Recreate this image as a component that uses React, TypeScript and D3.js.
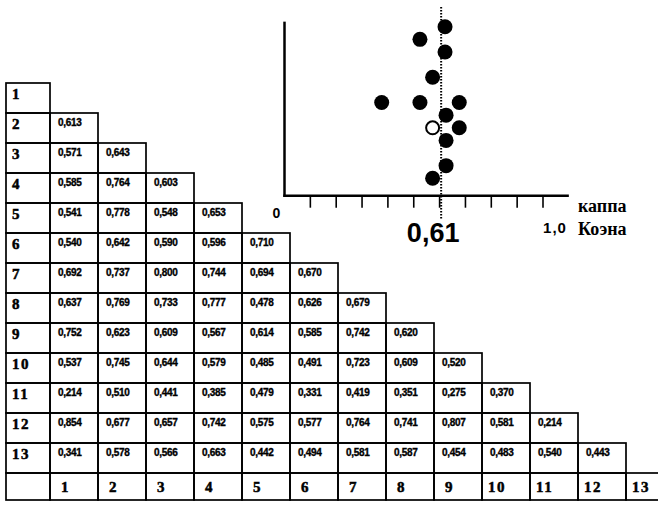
import React from "react";
import * as d3 from "d3";

// pairwise Cohen's kappa between 13 raters (lower triangle, row i vs columns 1..i-1)
const raters = ["1", "2", "3", "4", "5", "6", "7", "8", "9", "10", "11", "12", "13"];

const kappaRows: number[][] = [
  [],
  [0.613],
  [0.571, 0.643],
  [0.585, 0.764, 0.603],
  [0.541, 0.778, 0.548, 0.653],
  [0.540, 0.642, 0.590, 0.596, 0.710],
  [0.692, 0.737, 0.800, 0.744, 0.694, 0.670],
  [0.637, 0.769, 0.733, 0.777, 0.478, 0.626, 0.679],
  [0.752, 0.623, 0.609, 0.567, 0.614, 0.585, 0.742, 0.620],
  [0.537, 0.745, 0.644, 0.579, 0.485, 0.491, 0.723, 0.609, 0.520],
  [0.214, 0.510, 0.441, 0.385, 0.479, 0.331, 0.419, 0.351, 0.275, 0.370],
  [0.854, 0.677, 0.657, 0.742, 0.575, 0.577, 0.764, 0.741, 0.807, 0.581, 0.214],
  [0.341, 0.578, 0.566, 0.663, 0.442, 0.494, 0.581, 0.587, 0.454, 0.483, 0.540, 0.443],
];

// dot plot: mean kappa per rater, vertical slot, hollow marker
const dotKappa = [0.621, 0.524, 0.621, 0.573, 0.376, 0.524, 0.676, 0.625, 0.573, 0.676, 0.625, 0.625, 0.573];
const dotSlot = [0, 1, 2, 4, 6, 6, 6, 7, 8, 8, 9, 11, 12];
const dotHollow = [false, false, false, false, false, false, false, false, true, false, false, false, false];

const axisTicks = [0.1, 0.2, 0.3, 0.4, 0.5, 0.6, 0.7, 0.8, 0.9, 1.0];
const refLine = 0.606;
const refLabel = "0,61";

const W = 658;
const H = 507;

const serif = "'Liberation Serif', 'Times New Roman', serif";
const sans = "'Liberation Sans', Arial, sans-serif";

const fmt = (v: number) => d3.format(".3f")(v).replace(".", ",");

export default function App() {
  // table geometry
  const colX = d3.scaleLinear().domain([0, 13]).range([50, 50 + 13 * 48]);
  const rowY = d3.scaleLinear().domain([0, 13]).range([83, 83 + 13 * 30]);
  const labelLeft = 6;
  const cellW = 48;
  const cellH = 30;
  const lastH = 27;

  // dot plot scales
  const x = d3.scaleLinear().domain([0, 1]).range([284.5, 543]);
  const y = d3.scaleLinear().domain([0, 12]).range([26.7, 178.3]);
  const axisY = 195.7;
  const axisTop = y(-0.4);

  const lw = 1.7;

  return (
    <svg
      width={W}
      height={H}
      style={{ position: "absolute", left: 0, top: 0, background: "#fff" }}
    >
      {/* table */}
      <g className="table" fill="none" stroke="#000" strokeWidth={lw}>
        {raters.map((r, i) => (
          <g key={r}>
            <rect x={labelLeft} y={rowY(i)} width={colX(0) - labelLeft} height={cellH} />
            {kappaRows[i].map((v, j) => (
              <rect key={j} x={colX(j)} y={rowY(i)} width={cellW} height={cellH} />
            ))}
          </g>
        ))}
        <rect x={labelLeft} y={rowY(13)} width={colX(0) - labelLeft} height={lastH} />
        {raters.map((r, j) => (
          <rect key={r} x={colX(j)} y={rowY(13)} width={cellW} height={lastH} />
        ))}
      </g>
      <g className="table-text" fill="#000" stroke="#000">
        {raters.map((r, i) => (
          <g key={r}>
            <text
              x={12}
              y={rowY(i) + 16}
              fontFamily={serif}
              fontWeight="bold"
              fontSize={15}
              letterSpacing={1.5}
              strokeWidth={0.5}
            >
              {r}
            </text>
            {kappaRows[i].map((v, j) => (
              <text
                key={j}
                x={colX(j) + 8}
                y={rowY(i) + 13}
                fontFamily={sans}
                fontWeight="bold"
                fontSize={10}
                letterSpacing={-0.3}
                strokeWidth={0.35}
              >
                {fmt(v)}
              </text>
            ))}
          </g>
        ))}
        {raters.map((r, j) => (
          <text
            key={r}
            x={colX(j) + (r.length > 1 ? 6 : 11)}
            y={rowY(13) + 19}
            fontFamily={serif}
            fontWeight="bold"
            fontSize={15}
            letterSpacing={1.5}
            strokeWidth={0.5}
          >
            {r}
          </text>
        ))}
      </g>

      {/* dot plot */}
      <g className="dots-chart">
        <line
          x1={x(refLine)}
          x2={x(refLine)}
          y1={7}
          y2={220}
          stroke="#000"
          strokeWidth={2}
          strokeDasharray="1.5,1.5"
        />
        <line x1={x(0)} x2={x(0)} y1={axisTop} y2={axisY + 1.2} stroke="#000" strokeWidth={2.5} />
        <line x1={x(0) - 1.2} x2={x(1.1)} y1={axisY} y2={axisY} stroke="#000" strokeWidth={2.5} />
        {axisTicks.map((t) => (
          <line key={t} x1={x(t)} x2={x(t)} y1={axisY} y2={axisY + 12} stroke="#000" strokeWidth={1.6} />
        ))}
        {dotKappa.map((k, i) => (
          <circle
            key={i}
            cx={x(k)}
            cy={y(dotSlot[i])}
            r={dotHollow[i] ? 6.5 : 7.5}
            fill={dotHollow[i] ? "#fff" : "#000"}
            stroke="#000"
            strokeWidth={dotHollow[i] ? 2 : 0}
          />
        ))}
        <text x={x(0) - 8} y={218} textAnchor="middle" fontFamily={sans} fontWeight="bold" fontSize={14}>
          0
        </text>
        <text x={x(refLine) - 8} y={242} textAnchor="middle" fontFamily={sans} fontWeight="bold" fontSize={27}>
          {refLabel}
        </text>
        <text x={x(1) + 12} y={233} textAnchor="middle" fontFamily={sans} fontWeight="bold" fontSize={15} letterSpacing={1}>
          1,0
        </text>
        <text x={578} y={212} fontFamily={serif} fontWeight="bold" fontSize={18}>
          каппа
        </text>
        <text x={578} y={235} fontFamily={serif} fontWeight="bold" fontSize={18}>
          Коэна
        </text>
      </g>
    </svg>
  );
}
